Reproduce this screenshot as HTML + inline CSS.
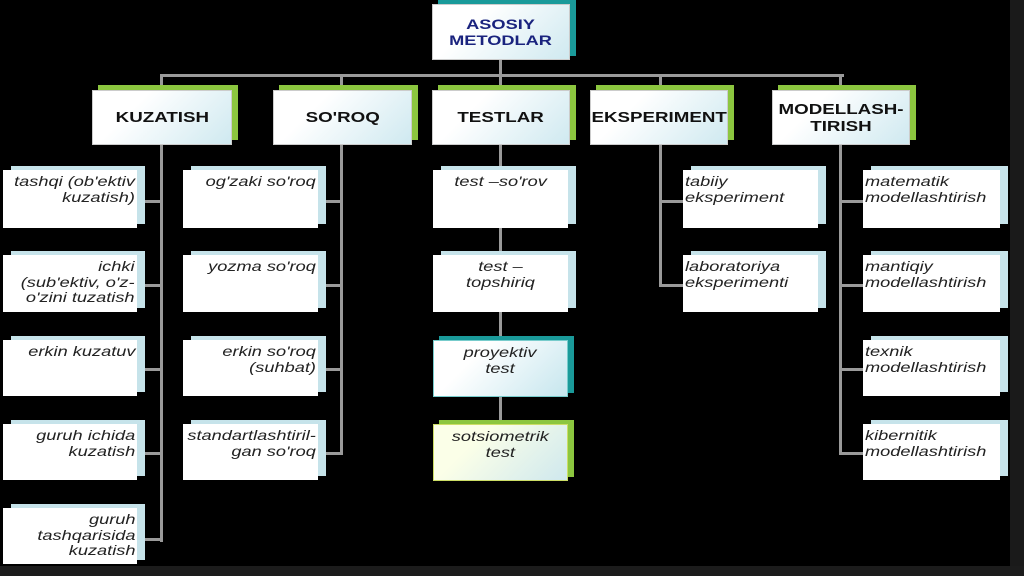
<!DOCTYPE html><html><head><style>
body{margin:0;width:1024px;height:576px;background:#000;position:relative;overflow:hidden;font-family:"Liberation Sans",sans-serif}
.a{position:absolute}
.l{position:absolute;background:#9a9a9a}
.h{position:absolute;background:linear-gradient(135deg,#fff 30%,#cfe9f0);border:1px solid #ccc;font-weight:bold;font-size:15px;color:#111;display:flex;align-items:center;justify-content:center;text-align:center;line-height:17px;box-sizing:border-box}
.h span{display:inline-block;transform:scaleX(1.25);transform-origin:center}
.sg{position:absolute;background:#8cc63f}
.sb{position:absolute;background:#c6e3ea}
.c{position:absolute;background:#fff;font-style:italic;font-size:14px;color:#222;line-height:15.5px;box-sizing:border-box;padding:4px 2px 2px}
.c span{display:inline-block;transform:scaleX(1.3);transform-origin:left top}
.r{text-align:right}.r span{transform-origin:right top}
.ce{text-align:center}.ce span{transform-origin:center top}
</style></head><body>
<div class="a" style="right:0;top:0;width:14px;height:576px;background:#1a1a1a"></div>
<div class="a" style="left:0;bottom:0;width:1024px;height:10px;background:#1c1c1c"></div>
<div class="l" style="left:160px;top:74px;width:684px;height:3px"></div>
<div class="l" style="left:499px;top:60px;width:3px;height:370px"></div>
<div class="l" style="left:160px;top:74px;width:3px;height:468px"></div>
<div class="l" style="left:340px;top:74px;width:3px;height:380px"></div>
<div class="l" style="left:659px;top:74px;width:3px;height:212px"></div>
<div class="l" style="left:839px;top:74px;width:3px;height:380px"></div>
<div class="l" style="left:137px;top:200px;width:25px;height:3px"></div>
<div class="l" style="left:137px;top:284px;width:25px;height:3px"></div>
<div class="l" style="left:137px;top:368px;width:25px;height:3px"></div>
<div class="l" style="left:137px;top:452px;width:25px;height:3px"></div>
<div class="l" style="left:137px;top:538px;width:25px;height:3px"></div>
<div class="l" style="left:318px;top:200px;width:25px;height:3px"></div>
<div class="l" style="left:318px;top:284px;width:25px;height:3px"></div>
<div class="l" style="left:318px;top:368px;width:25px;height:3px"></div>
<div class="l" style="left:318px;top:452px;width:25px;height:3px"></div>
<div class="l" style="left:659px;top:200px;width:25px;height:3px"></div>
<div class="l" style="left:659px;top:284px;width:25px;height:3px"></div>
<div class="l" style="left:839px;top:200px;width:25px;height:3px"></div>
<div class="l" style="left:839px;top:284px;width:25px;height:3px"></div>
<div class="l" style="left:839px;top:368px;width:25px;height:3px"></div>
<div class="l" style="left:839px;top:452px;width:25px;height:3px"></div>
<div class="a" style="left:438px;top:0;width:138px;height:56px;background:#1a9a9a"></div>
<div class="h" style="left:432px;top:4px;width:138px;height:56px;color:#1a237e;font-size:14px;line-height:16px"><span style="transform:scaleX(1.3)">ASOSIY<br>METODLAR</span></div>
<div class="sg" style="left:98px;top:85px;width:140px;height:55px"></div>
<div class="h" style="left:92px;top:90px;width:140px;height:55px"><span>KUZATISH</span></div>
<div class="sg" style="left:279px;top:85px;width:139px;height:55px"></div>
<div class="h" style="left:273px;top:90px;width:139px;height:55px"><span>SO'ROQ</span></div>
<div class="sg" style="left:438px;top:85px;width:138px;height:55px"></div>
<div class="h" style="left:432px;top:90px;width:138px;height:55px"><span>TESTLAR</span></div>
<div class="sg" style="left:596px;top:85px;width:138px;height:55px"></div>
<div class="h" style="left:590px;top:90px;width:138px;height:55px"><span>EKSPERIMENT</span></div>
<div class="sg" style="left:778px;top:85px;width:138px;height:55px"></div>
<div class="h" style="left:772px;top:90px;width:138px;height:55px"><span>MODELLASH-<br>TIRISH</span></div>
<div class="sb" style="left:11px;top:166px;width:134px;height:58px"></div><div class="c r" style="left:3px;top:170px;width:134px;height:58px"><span>tashqi (ob'ektiv<br>kuzatish)</span></div>
<div class="sb" style="left:11px;top:251px;width:134px;height:57px"></div><div class="c r" style="left:3px;top:255px;width:134px;height:57px"><span>ichki<br>(sub'ektiv, o'z-<br>o'zini tuzatish</span></div>
<div class="sb" style="left:11px;top:336px;width:134px;height:56px"></div><div class="c r" style="left:3px;top:340px;width:134px;height:56px"><span>erkin kuzatuv</span></div>
<div class="sb" style="left:11px;top:420px;width:134px;height:56px"></div><div class="c r" style="left:3px;top:424px;width:134px;height:56px"><span>guruh ichida<br>kuzatish</span></div>
<div class="sb" style="left:11px;top:504px;width:134px;height:56px"></div><div class="c r" style="left:3px;top:508px;width:134px;height:56px"><span>guruh<br>tashqarisida<br>kuzatish</span></div>
<div class="sb" style="left:191px;top:166px;width:135px;height:58px"></div><div class="c r" style="left:183px;top:170px;width:135px;height:58px"><span>og'zaki so'roq</span></div>
<div class="sb" style="left:191px;top:251px;width:135px;height:57px"></div><div class="c r" style="left:183px;top:255px;width:135px;height:57px"><span>yozma so'roq</span></div>
<div class="sb" style="left:191px;top:336px;width:135px;height:56px"></div><div class="c r" style="left:183px;top:340px;width:135px;height:56px"><span>erkin so'roq<br>(suhbat)</span></div>
<div class="sb" style="left:191px;top:420px;width:135px;height:56px"></div><div class="c r" style="left:183px;top:424px;width:135px;height:56px"><span>standartlashtiril-<br>gan so'roq</span></div>
<div class="sb" style="left:441px;top:166px;width:135px;height:58px"></div><div class="c ce" style="left:433px;top:170px;width:135px;height:58px"><span>test –so'rov</span></div>
<div class="sb" style="left:441px;top:251px;width:135px;height:57px"></div><div class="c ce" style="left:433px;top:255px;width:135px;height:57px"><span>test –<br>topshiriq</span></div>
<div class="a" style="left:439px;top:336px;width:135px;height:57px;background:#1a9a9a"></div><div class="c ce" style="left:433px;top:340px;width:135px;height:57px;background:linear-gradient(135deg,#fff 30%,#c6e6ee);border:1px solid #7cc"><span>proyektiv<br>test</span></div>
<div class="sg" style="left:439px;top:420px;width:135px;height:57px"></div><div class="c ce" style="left:433px;top:424px;width:135px;height:57px;background:linear-gradient(135deg,#fbffe8 30%,#cfe8ee);border:1px solid #cd6"><span>sotsiometrik<br>test</span></div>
<div class="sb" style="left:691px;top:166px;width:135px;height:58px"></div><div class="c" style="left:683px;top:170px;width:135px;height:58px"><span>tabiiy<br>eksperiment</span></div>
<div class="sb" style="left:691px;top:251px;width:135px;height:57px"></div><div class="c" style="left:683px;top:255px;width:135px;height:57px"><span>laboratoriya<br>eksperimenti</span></div>
<div class="sb" style="left:871px;top:166px;width:137px;height:58px"></div><div class="c" style="left:863px;top:170px;width:137px;height:58px"><span>matematik<br>modellashtirish</span></div>
<div class="sb" style="left:871px;top:251px;width:137px;height:57px"></div><div class="c" style="left:863px;top:255px;width:137px;height:57px"><span>mantiqiy<br>modellashtirish</span></div>
<div class="sb" style="left:871px;top:336px;width:137px;height:56px"></div><div class="c" style="left:863px;top:340px;width:137px;height:56px"><span>texnik<br>modellashtirish</span></div>
<div class="sb" style="left:871px;top:420px;width:137px;height:56px"></div><div class="c" style="left:863px;top:424px;width:137px;height:56px"><span>kibernitik<br>modellashtirish</span></div>
</body></html>
